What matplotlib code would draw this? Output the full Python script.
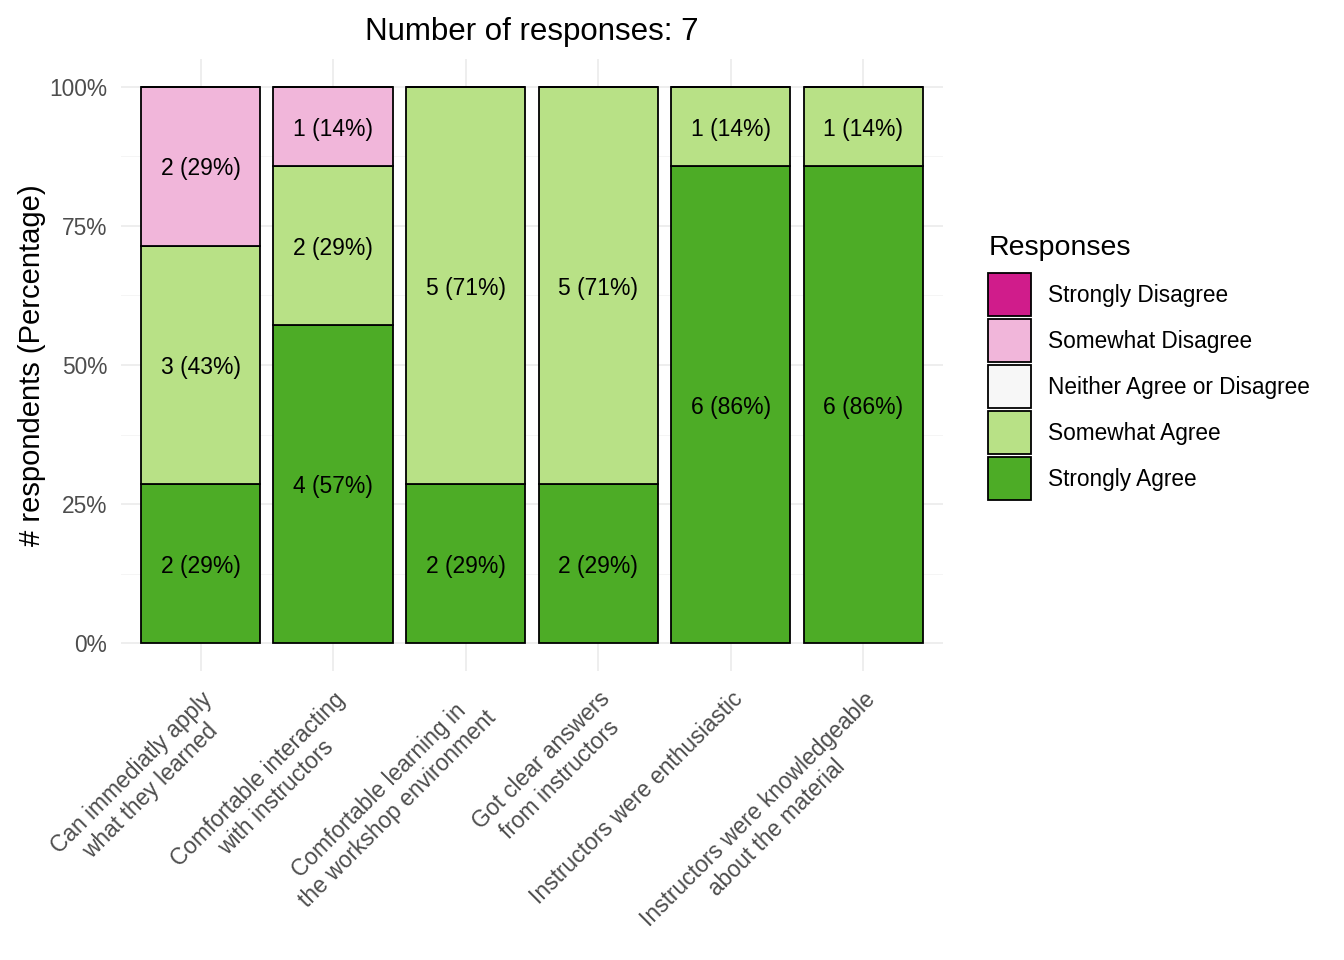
import numpy as np
import matplotlib
matplotlib.use("Agg")
import matplotlib.pyplot as plt
from matplotlib.patches import Patch
from matplotlib.ticker import FixedLocator

plt.rcParams['font.family'] = ['Liberation Sans', 'DejaVu Sans']

# data
questions = [
    "Can immediatly apply\nwhat they learned",
    "Comfortable interacting\nwith instructors",
    "Comfortable learning in\nthe workshop environment",
    "Got clear answers\nfrom instructors",
    "Instructors were enthusiastic",
    "Instructors were knowledgeable\nabout the material",
]
responses = ["Strongly Disagree", "Somewhat Disagree", "Neither Agree or Disagree",
             "Somewhat Agree", "Strongly Agree"]
strongly_agree = [2, 4, 2, 2, 6, 6]
somewhat_agree = [3, 2, 5, 5, 1, 1]
neither = [0, 0, 0, 0, 0, 0]
somewhat_disagree = [2, 1, 0, 0, 0, 0]
strongly_disagree = [0, 0, 0, 0, 0, 0]
n_total = 7

colors = {"Strongly Disagree": "#D01C8B", "Somewhat Disagree": "#F1B6DA",
          "Neither Agree or Disagree": "#F7F7F7", "Somewhat Agree": "#B8E186",
          "Strongly Agree": "#4DAC26"}

# bottom to top stacking order
stack = [("Strongly Agree", strongly_agree), ("Somewhat Agree", somewhat_agree),
         ("Neither Agree or Disagree", neither), ("Somewhat Disagree", somewhat_disagree),
         ("Strongly Disagree", strongly_disagree)]

fig = plt.figure(figsize=(13.44, 9.6), dpi=100)
ax = fig.add_axes([0.09, 0.301, 0.6116, 0.6375])

x = np.arange(len(questions))
bottom = np.zeros(len(questions))
for name, counts in stack:
    counts = np.array(counts, dtype=float)
    frac = counts / n_total
    ax.bar(x, frac, 0.9, bottom=bottom, color=colors[name], edgecolor='black',
           linewidth=1.3, zorder=3)
    for i, c in enumerate(counts):
        if c > 0:
            ax.text(x[i], bottom[i] + frac[i] / 2, f"{int(c)} ({round(100 * c / n_total):.0f}%)",
                    ha='center', va='center_baseline', fontsize=16.5, color='black', zorder=4)
    bottom += frac

ax.set_xlim(-0.6, len(questions) - 0.4)
ax.set_ylim(-0.05, 1.05)
ax.set_yticks([0, 0.25, 0.5, 0.75, 1.0])
ax.set_yticklabels(["0%", "25%", "50%", "75%", "100%"])
ax.yaxis.set_minor_locator(FixedLocator([0.125, 0.375, 0.625, 0.875]))
ax.set_xticks(x)
ax.set_xticklabels(questions, rotation=45, ha='right', rotation_mode='anchor',
                   multialignment='center')
ax.tick_params(axis='both', which='both', length=0, labelsize=16.4, labelcolor='#4D4D4D')
ax.tick_params(axis='x', pad=12)
ax.tick_params(axis='y', pad=10)
ax.grid(True, which='major', color='#EBEBEB', linewidth=1.2, zorder=0)
ax.grid(True, which='minor', axis='y', color='#F5F5F5', linewidth=0.7, zorder=0)
for s in ax.spines.values():
    s.set_visible(False)

ax.set_ylabel("# respondents (Percentage)", fontsize=21, labelpad=2)
ax.set_title("Number of responses: 7", fontsize=22.5, pad=14)

handles = [Patch(facecolor=colors[r], edgecolor='black', linewidth=1.3) for r in responses]
leg = fig.legend(handles, responses, loc='upper left', bbox_to_anchor=(0.7285, 0.765),
                 frameon=False, title="Responses", fontsize=16.3, title_fontsize=20.5,
                 handlelength=1.9, handleheight=2.55, labelspacing=0.13,
                 handletextpad=0.75, borderaxespad=0)
leg._legend_box.align = "left"
leg._legend_box.sep = 9

fig.savefig("out.png", dpi=100)
